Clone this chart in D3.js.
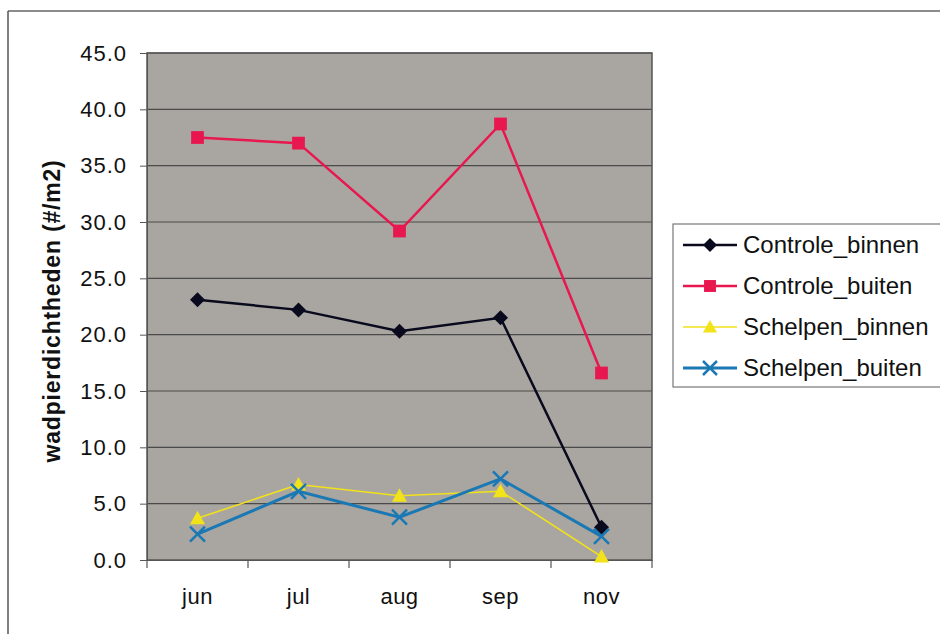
<!DOCTYPE html>
<html><head><meta charset="utf-8">
<script src="https://cdn.jsdelivr.net/npm/d3@7/dist/d3.min.js"></script>
<style>body{margin:0;background:#fff}svg{display:block;font-family:"Liberation Sans",Arial,sans-serif}</style>
</head><body>
<svg id="c" width="940" height="634"></svg>
<script>
const months = ["jun","jul","aug","sep","nov"];
const controleBinnen = [23.1, 22.2, 20.3, 21.5, 2.9];
const controleBuiten = [37.5, 37.0, 29.2, 38.7, 16.6];
const schelpenBinnen = [3.7, 6.7, 5.7, 6.1, 0.3];
const schelpenBuiten = [2.3, 6.1, 3.8, 7.2, 2.1];
const yTicks = [0,5,10,15,20,25,30,35,40,45];
const seriesNames = ["Controle_binnen","Controle_buiten","Schelpen_binnen","Schelpen_buiten"];

const series = [
  {name: seriesNames[0], values: controleBinnen, color: "#0a0a1e", width: 2.5, marker: "diamond"},
  {name: seriesNames[1], values: controleBuiten, color: "#e8174f", width: 2.5, marker: "square"},
  {name: seriesNames[2], values: schelpenBinnen, color: "#f2e21a", width: 1.6, marker: "triangle"},
  {name: seriesNames[3], values: schelpenBuiten, color: "#1a78b4", width: 3, marker: "x"}
];

const svg = d3.select("#c");
const L = 147, R = 652, T = 53, B = 560;

svg.append("line").attr("x1",8).attr("y1",11).attr("x2",940).attr("y2",11).attr("stroke","#666").attr("stroke-width",1.5);
svg.append("line").attr("x1",8).attr("y1",11).attr("x2",8).attr("y2",634).attr("stroke","#555").attr("stroke-width",1.5);

const x = d3.scaleBand().domain(months).range([L, R]);
const y = d3.scaleLinear().domain([0,45]).range([B, T]);

svg.append("rect").attr("x",L).attr("y",T).attr("width",R-L).attr("height",B-T).attr("fill","#a9a6a1");

svg.append("g").selectAll("line").data(yTicks.filter(d=>d>0)).join("line")
  .attr("x1",L).attr("x2",R).attr("y1",d=>y(d)).attr("y2",d=>y(d))
  .attr("stroke","#4a4a4a").attr("stroke-width",1.2);

svg.append("rect").attr("x",L).attr("y",T).attr("width",R-L).attr("height",B-T).attr("fill","none").attr("stroke","#555").attr("stroke-width",1.5);

const ya = svg.append("g").attr("transform",`translate(${L},0)`)
  .call(d3.axisLeft(y).tickValues(yTicks).tickFormat(d3.format(".1f")).tickSize(7).tickPadding(13));
ya.select(".domain").attr("stroke","#555");
ya.selectAll(".tick line").attr("stroke","#555");
ya.selectAll("text").attr("font-size",22).attr("letter-spacing","1px").attr("fill","#111").attr("font-family","Liberation Sans, Arial, sans-serif");

const xa = svg.append("g").attr("transform",`translate(0,${B})`)
  .call(d3.axisBottom(x).tickSize(0).tickPadding(28));
xa.select(".domain").attr("stroke","#555");
xa.selectAll("text").attr("font-size",22).attr("letter-spacing","0.5px").attr("fill","#111").attr("font-family","Liberation Sans, Arial, sans-serif");
const bounds = d3.range(months.length+1).map(i => L + i*x.bandwidth());
svg.append("g").selectAll("line").data(bounds).join("line")
  .attr("x1",d=>d).attr("x2",d=>d).attr("y1",B).attr("y2",B+8).attr("stroke","#555").attr("stroke-width",1.2);

svg.append("text").attr("transform",`translate(60,311) rotate(-90)`)
  .attr("text-anchor","middle").attr("font-size",23).attr("font-weight","bold").attr("letter-spacing","0.8px").attr("fill","#111")
  .text("wadpierdichtheden (#/m2)");

function drawMarker(g, type, cx, cy, color, s) {
  if (type === "diamond") {
    g.append("path").attr("d",`M${cx},${cy-s}L${cx+s},${cy}L${cx},${cy+s}L${cx-s},${cy}Z`).attr("fill",color);
  } else if (type === "square") {
    g.append("rect").attr("x",cx-s*0.85).attr("y",cy-s*0.85).attr("width",s*1.7).attr("height",s*1.7).attr("fill",color);
  } else if (type === "triangle") {
    g.append("path").attr("d",`M${cx},${cy-s}L${cx+s},${cy+s*0.8}L${cx-s},${cy+s*0.8}Z`).attr("fill",color);
  } else {
    g.append("path").attr("d",`M${cx-s},${cy-s}L${cx+s},${cy+s}M${cx+s},${cy-s}L${cx-s},${cy+s}`).attr("stroke",color).attr("stroke-width",2.5);
  }
}

const line = d3.line().x((d,i)=>x(months[i])+x.bandwidth()/2).y(d=>y(d));
series.forEach(s => {
  const g = svg.append("g");
  g.append("path").datum(s.values).attr("d",line).attr("fill","none").attr("stroke",s.color).attr("stroke-width",s.width);
  s.values.forEach((v,i) => drawMarker(g, s.marker, x(months[i])+x.bandwidth()/2, y(v), s.color, 7.5));
});

const lg = svg.append("g");
lg.append("rect").attr("x",673).attr("y",224).attr("width",280).attr("height",163).attr("fill","#fff").attr("stroke","#777").attr("stroke-width",1.2);
series.forEach((s,i) => {
  const yy = 245 + i*41;
  lg.append("line").attr("x1",683).attr("x2",737).attr("y1",yy).attr("y2",yy).attr("stroke",s.color).attr("stroke-width",s.width);
  drawMarker(lg, s.marker, 710, yy, s.color, 7);
  lg.append("text").attr("x",743).attr("y",yy+8).attr("font-size",24).attr("fill","#111").text(s.name);
});
</script>
</body></html>
